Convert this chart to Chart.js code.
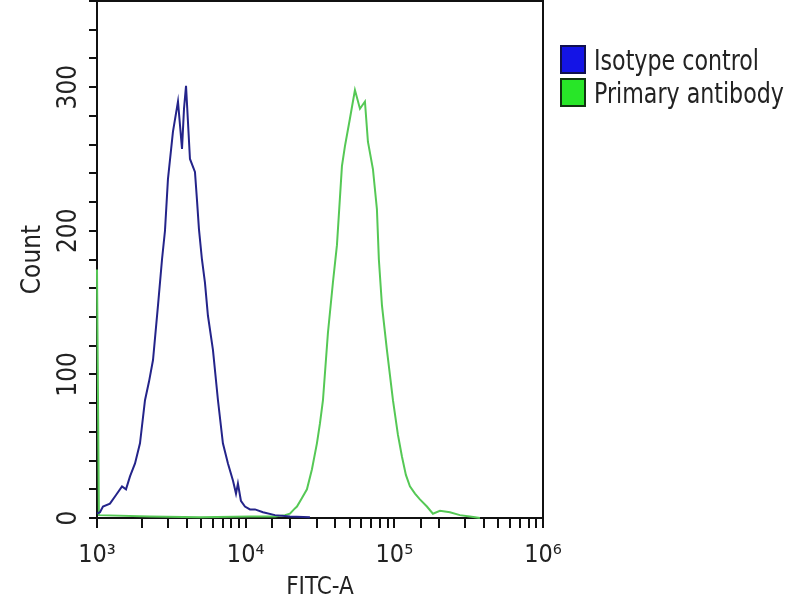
<!DOCTYPE html>
<html>
<head>
<meta charset="utf-8">
<script src="https://cdn.jsdelivr.net/npm/chart.js@4"></script>
<style>
  body { margin: 0; background: #fff; }
  #wrap { position: relative; width: 800px; height: 600px; }
  .legend { position: absolute; left: 560px; top: 45px; color: #222; }
  .legend div { height: 33px; line-height: 30px; white-space: nowrap; }
  .legend span { display: inline-block; width: 22px; height: 25px; border: 2px solid #113311; vertical-align: -4px; margin-right: 8px; }
  .legend em { font-style: normal; display: inline-block; transform-origin: left center; }
</style>
</head>
<body>
<div id="wrap">
  <canvas id="chart" width="800" height="600"></canvas>
  <div class="legend" id="legend"></div>
</div>
<script>
// isotype control histogram (FITC-A, count)
const isoX = [1000, 1047, 1097, 1222, 1343, 1473, 1567, 1667, 1802, 1946, 2103, 2238, 2381, 2572, 2737, 2866, 3001, 3243, 3505, 3731, 3848, 3970, 4220, 4560, 4700, 4852, 5081, 5321, 5573, 6024, 6511, 7030, 7600, 8220, 8610, 8870, 9290, 9890, 10690, 11560, 13070, 15740, 19860, 27050];
const isoY = [3, 4, 8, 10, 16, 22, 20, 29, 38, 52, 82, 95, 110, 148, 180, 200, 236, 269, 290, 257, 285, 301, 250, 241, 222, 201, 180, 164, 141, 117, 82, 52, 38, 26, 17, 24, 12, 8, 6, 6, 4, 2, 1, 0.5];

// primary antibody histogram
const abX = [1000, 1030, 2270, 4930, 10690, 15740, 18370, 19860, 21130, 22130, 23920, 25830, 27920, 30150, 31620, 33110, 35760, 38630, 41110, 44420, 46540, 50250, 54330, 58730, 63430, 66430, 71780, 76360, 78700, 82560, 89130, 97880, 105700, 112400, 119600, 127300, 137700, 148600, 165600, 181800, 202700, 236600, 276100, 322100, 376300];
const abY = [173, 2, 1, 0.5, 1, 1, 2, 3, 6, 8, 14, 20, 34, 52, 66, 82, 129, 164, 190, 245, 259, 278, 298, 285, 290, 262, 243, 215, 180, 148, 117, 82, 58, 43, 30, 22, 17, 13, 8, 3, 5, 4, 2, 1, 0];

const seriesNames = ['Isotype control', 'Primary antibody'];
const seriesColors = ['#24248a', '#55c855'];
const boxColors = ['#1414e6', '#28e628'];
const yTickLabels = [0, 100, 200, 300];
const xTickLabels = { 3: '10³', 4: '10⁴', 5: '10⁵', 6: '10⁶' };

// pick a condensed face if one is installed
function hasFont(name) {
    const c = document.createElement('canvas').getContext('2d');
    const s = 'Isotype control 0123';
    c.font = '40px monospace';
    const w1 = c.measureText(s).width;
    c.font = "40px '" + name + "', monospace";
    return c.measureText(s).width !== w1;
}
let fontFam = "'Liberation Sans', Arial, sans-serif";
let narrow = false;
for (const f of ['Liberation Sans Narrow', 'DejaVu Sans Condensed', 'Arial Narrow']) {
    if (hasFont(f)) { fontFam = "'" + f + "', sans-serif"; narrow = true; break; }
}

const legend = document.getElementById('legend');
legend.style.fontFamily = fontFam;
legend.style.fontSize = '28px';
seriesNames.forEach((n, i) => {
    const row = document.createElement('div');
    const box = document.createElement('span');
    box.style.background = boxColors[i];
    if (i === 0) box.style.borderColor = '#101050';
    const txt = document.createElement('em');
    txt.textContent = n;
    row.appendChild(box);
    row.appendChild(txt);
    legend.appendChild(row);
    txt.style.transform = narrow ? 'scaleX(0.88)' : 'scaleX(0.8)';
});

const toPoints = (xs, ys) => xs.map((x, i) => ({ x: x, y: ys[i] }));

const frame = {
    id: 'frame',
    beforeDatasetsDraw(chart) {
        const a = chart.chartArea;
        const ctx = chart.ctx;
        ctx.save();
        ctx.strokeStyle = '#111';
        ctx.lineWidth = 2;
        ctx.strokeRect(a.left, a.top, a.right - a.left, a.bottom - a.top);
        ctx.restore();
    }
};

new Chart(document.getElementById('chart'), {
    type: 'line',
    data: {
        datasets: [
            { label: seriesNames[0], data: toPoints(isoX, isoY), borderColor: seriesColors[0], borderWidth: 2, clip: 2 },
            { label: seriesNames[1], data: toPoints(abX, abY), borderColor: seriesColors[1], borderWidth: 2, clip: 2 }
        ]
    },
    options: {
        responsive: false,
        animation: false,
        layout: { padding: { left: 0, right: 257, top: 1, bottom: 0 } },
        elements: { point: { radius: 0 }, line: { tension: 0 } },
        plugins: { legend: { display: false }, tooltip: { enabled: false } },
        scales: {
            x: {
                type: 'logarithmic',
                min: 1000,
                max: 1000000,
                afterFit: s => { s.height = 82; s.paddingLeft = 0; s.paddingRight = 0; },
                grid: { drawOnChartArea: false, color: '#111', tickLength: 10, lineWidth: 2 },
                border: { color: '#111', width: 2 },
                ticks: {
                    autoSkip: false,
                    maxRotation: 0,
                    padding: 12,
                    color: '#222',
                    font: { family: fontFam, size: 25 },
                    callback: v => {
                        const e = Math.log10(v);
                        return Math.abs(e - Math.round(e)) < 1e-9 ? (xTickLabels[Math.round(e)] || '') : '';
                    }
                },
                title: { display: true, text: 'FITC-A', color: '#222', font: { family: fontFam, size: 24, lineHeight: 1 }, padding: { top: 0, bottom: 0 } }
            },
            y: {
                min: 0,
                max: 360,
                afterFit: s => { s.width = 97; s.paddingTop = 0; s.paddingBottom = 0; },
                grid: { drawOnChartArea: false, color: '#111', tickLength: 8, lineWidth: 2 },
                border: { color: '#111', width: 2 },
                ticks: {
                    stepSize: 20,
                    maxTicksLimit: 100,
                    autoSkip: false,
                    minRotation: 90,
                    maxRotation: 90,
                    crossAlign: 'center',
                    padding: -3,
                    color: '#222',
                    font: { family: fontFam, size: 26 },
                    callback: v => yTickLabels.includes(v) ? String(v) : ''
                },
                title: { display: true, text: 'Count', color: '#222', font: { family: fontFam, size: 26, lineHeight: 1 }, padding: { top: 20, bottom: 0 } }
            }
        }
    },
    plugins: [frame]
});
</script>
</body>
</html>
